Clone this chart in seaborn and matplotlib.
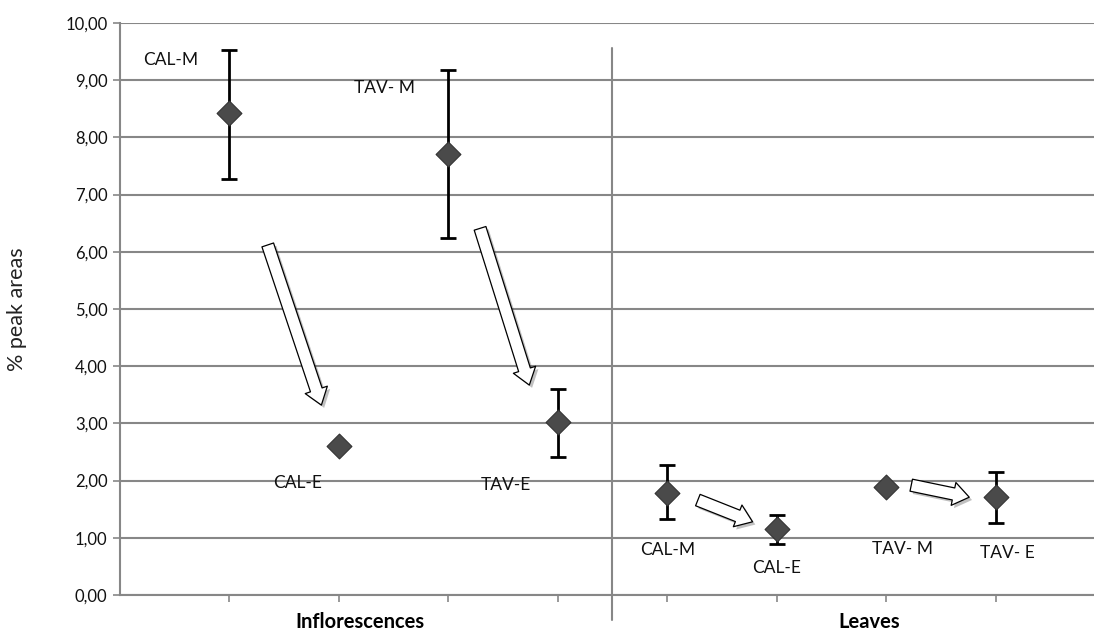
import numpy as np
import pandas as pd
import matplotlib
matplotlib.use("Agg")
import matplotlib.pyplot as plt
import matplotlib.patches as mpatches
import matplotlib.patheffects as pe
from matplotlib.ticker import FuncFormatter, MultipleLocator
import seaborn as sns

# --- DATA ---
tissues = ["Inflorescences"] * 4 + ["Leaves"] * 4
samples = ["CAL-M", "CAL-E", "TAV- M", "TAV-E", "CAL-M", "CAL-E", "TAV- M", "TAV- E"]
means = [8.42, 2.60, 7.71, 3.02, 1.78, 1.15, 1.89, 1.71]
upper = [9.53, 2.60, 9.18, 3.60, 2.27, 1.40, 1.89, 2.15]
lower = [7.27, 2.60, 6.24, 2.41, 1.33, 0.89, 1.89, 1.26]
# label positions (data coords)
label_x = [0.46, 1.62, 2.42, 3.53, 5.0, 6.0, 7.15, 8.11]
label_y = [9.36, 1.96, 8.86, 1.92, 0.79, 0.47, 0.80, 0.73]
# arrows: (from, to) in data coords
arrows = [
    ((1.35, 6.12), (1.84, 3.32)),
    ((3.29, 6.41), (3.74, 3.67)),
    ((5.28, 1.66), (5.78, 1.28)),
    ((7.23, 1.92), (7.76, 1.71)),
]
group_names = ["Inflorescences", "Leaves"]
group_x = [2.19, 6.85]

GRID = "#878787"
MARK = "#4a4a4a"

sns.set_theme(style="white")
plt.rcParams["font.family"] = ["Lato", "DejaVu Sans"]

df = pd.DataFrame({"tissue": tissues, "sample": samples, "mean": means,
                   "upper": upper, "lower": lower})
df["pos"] = np.arange(1, len(df) + 1)

fig = plt.figure(figsize=(10.94, 6.33), dpi=100)
ax = fig.add_axes([0.1097, 0.06, 0.8903, 0.9037])

# gridlines
ax.yaxis.set_major_locator(MultipleLocator(1))
ax.grid(axis="y", color=GRID, linewidth=1.5)
ax.set_axisbelow(True)

# error bars
eb = df[df["upper"] > df["lower"]]
ax.errorbar(eb["pos"], eb["mean"],
            yerr=[eb["mean"] - eb["lower"], eb["upper"] - eb["mean"]],
            fmt="none", ecolor="black", elinewidth=2, capsize=5.5, capthick=2,
            zorder=3)

# markers
sns.scatterplot(data=df, x="pos", y="mean", marker="D", s=160, color=MARK,
                edgecolor="#333333", linewidth=0.8, ax=ax, zorder=4, legend=False)

ax.set_xlim(0, 8.9)
ax.set_ylim(0, 10)
ax.yaxis.set_major_formatter(FuncFormatter(lambda v, p: f"{v:.2f}".replace(".", ",")))
ax.set_xticks(df["pos"])
ax.set_xticklabels([])
ax.tick_params(axis="x", bottom=True, length=5, color=GRID, width=1.2)
ax.tick_params(axis="y", left=True, length=5, color=GRID, width=1.2,
               labelsize=12, labelcolor="#111111", pad=4)
for side in ["top", "right"]:
    ax.spines[side].set_visible(False)
for side in ["left", "bottom"]:
    ax.spines[side].set_color(GRID)
    ax.spines[side].set_linewidth(1.5)

ax.set_xlabel("")
ax.set_ylabel("% peak areas", fontsize=15.5, color="#222222")
ax.yaxis.set_label_coords(-0.095, 0.5)

# separator between groups
ax.axvline(4.5, ymin=-0.044, ymax=0.956, color=GRID, linewidth=1.5, clip_on=False)

# sample labels
for sx, sy, s in zip(label_x, label_y, samples):
    ax.text(sx, sy, s, ha="center", va="center", fontsize=12.5, color="#111111")

# group labels
for gx, g in zip(group_x, group_names):
    ax.text(gx, -0.47, g, ha="center", va="center", fontsize=14.5,
            fontweight="bold", color="black", clip_on=False)

# block arrows
style = mpatches.ArrowStyle("Simple", head_length=0.55, head_width=0.8, tail_width=0.42)
for (x0, y0), (x1, y1) in arrows:
    arr = mpatches.FancyArrowPatch((x0, y0), (x1, y1), arrowstyle=style,
                                   mutation_scale=21, facecolor="white",
                                   edgecolor="black", linewidth=0.9,
                                   shrinkA=0, shrinkB=0, zorder=5)
    arr.set_path_effects([pe.SimplePatchShadow(offset=(2, -2), alpha=0.35), pe.Normal()])
    ax.add_patch(arr)

fig.savefig("out.png", dpi=100, facecolor="white")
